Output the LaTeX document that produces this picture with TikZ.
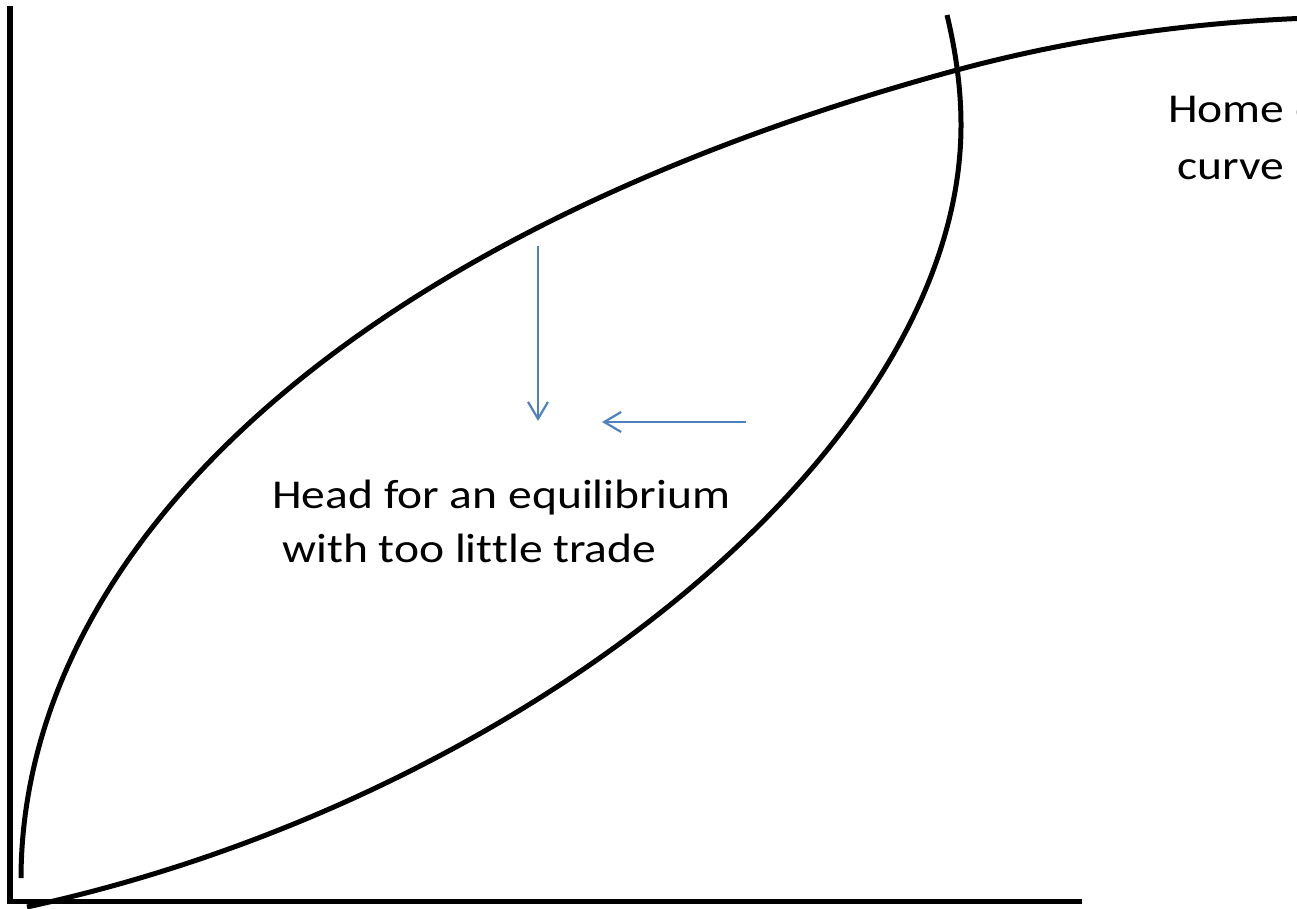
\documentclass[tikz,border=0pt]{standalone}
\usepackage{fontspec}
\setmainfont[Ligatures=NoCommon]{Carlito}
\usetikzlibrary{arrows.meta}
\definecolor{arrowblue}{HTML}{4F81BD}
\newcommand{\widetext}[1]{\scalebox{1.16}[1]{#1}}
\tikzset{
  axisline/.style={line width=5.5pt, black},
  offercurve/.style={line width=5pt, black, line join=round},
  adjarrow/.style={line width=2.2pt, arrowblue, -{Straight Barb[length=17pt,width=20pt,line width=2.2pt]}},
  lbl/.style={font=\fontsize{41}{49}\selectfont, inner sep=0pt, anchor=base west}
}
\begin{document}
\begin{tikzpicture}[x=1pt,y=-1pt]
\useasboundingbox (0,0) rectangle (1297,909);
% axes
\coordinate (ytop) at (10,6);
\coordinate (ybot) at (10,904);
\coordinate (xstart) at (7.5,901.5);
\coordinate (xend) at (1082,901.5);
\draw[axisline] (ytop) -- (ybot) (xstart) -- (xend);
% home offer curve
\coordinate (hA) at (21,878);
\coordinate (hX) at (957,70);
\coordinate (hB) at (1310,18);
\draw[offercurve] (hA) .. controls (22,560) and (330,240) .. (hX)
                       .. controls (1080,36.7) and (1200,22) .. (hB);
% foreign offer curve
\coordinate (fA) at (27,907);
\coordinate (fM) at (961,125);
\coordinate (fB) at (947,15);
\draw[offercurve] (fA) .. controls (520,800) and (961,450) .. (fM)
                       .. controls (961,80) and (953,40) .. (fB);
% adjustment arrows
\coordinate (vs) at (538,246);
\coordinate (ve) at (538,421);
\coordinate (hs) at (746,422);
\coordinate (he) at (602,422);
\draw[adjarrow] (vs) -- (ve);
\draw[adjarrow] (hs) -- (he);
% labels
\node[lbl] (head1) at (272,508) {\widetext{Head for an equilibrium}};
\node[lbl] (head2) at (282,562) {\widetext{with too little trade}};
\node[lbl] (home1) at (1168,123) {\widetext{Home offer}};
\node[lbl] (home2) at (1177,180) {\widetext{curve}};
\end{tikzpicture}
\end{document}
